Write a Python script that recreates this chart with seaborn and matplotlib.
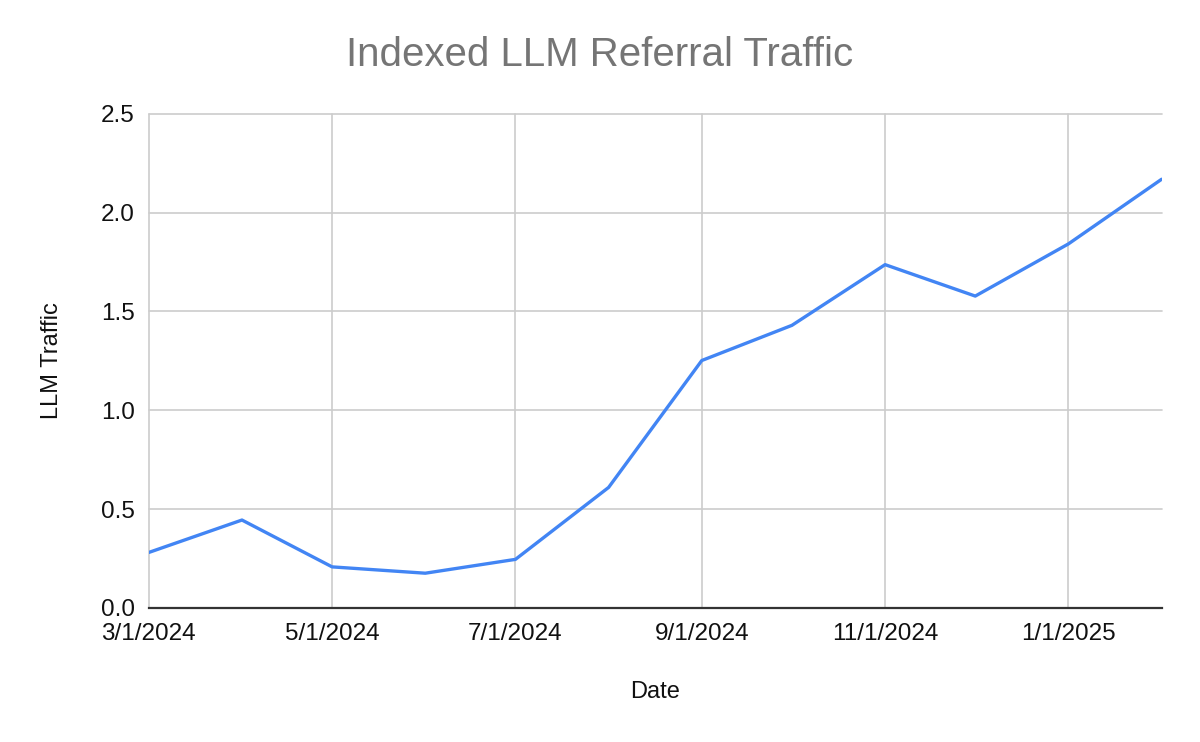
import pandas as pd
import matplotlib
matplotlib.use("Agg")
import matplotlib.pyplot as plt
import matplotlib.dates as mdates
from matplotlib.ticker import FuncFormatter
import seaborn as sns

# monthly values
dates = ["2024-03-01", "2024-04-01", "2024-05-01", "2024-06-01", "2024-07-01", "2024-08-01",
         "2024-09-01", "2024-10-01", "2024-11-01", "2024-12-01", "2025-01-01", "2025-02-01"]
traffic = [0.281, 0.445, 0.208, 0.176, 0.246, 0.610, 1.252, 1.430, 1.737, 1.578, 1.842, 2.169]
yticks = [0.0, 0.5, 1.0, 1.5, 2.0, 2.5]

df = pd.DataFrame({"Date": pd.to_datetime(dates), "LLM Traffic": traffic})

sns.set_style("whitegrid")
plt.rcParams["font.family"] = ["Liberation Sans", "DejaVu Sans"]

fig = plt.figure(figsize=(12, 7.42), dpi=100)
ax = fig.add_axes([0.124, 0.1806, 0.844, 0.666])

sns.lineplot(data=df, x="Date", y="LLM Traffic", color="#4285F4", linewidth=2.4, ax=ax)

ax.set_xlim(df["Date"].iloc[0], df["Date"].iloc[-1])
ax.set_ylim(0, 2.5)
ax.set_yticks(yticks)
ax.yaxis.set_major_formatter(FuncFormatter(lambda v, p: f"{v:.1f}"))
ax.xaxis.set_major_locator(mdates.MonthLocator(bymonth=[1, 3, 5, 7, 9, 11]))
ax.xaxis.set_major_formatter(FuncFormatter(
    lambda v, p: f"{mdates.num2date(v).month}/{mdates.num2date(v).day}/{mdates.num2date(v).year}"))

ax.grid(True, color="#cccccc", linewidth=1.2)
for gl in ax.get_ygridlines() + ax.get_xgridlines():
    gl.set_clip_on(False)
ax.set_axisbelow(True)
for s in ["top", "right", "left"]:
    ax.spines[s].set_visible(False)
ax.spines["bottom"].set_color("#333333")
ax.spines["bottom"].set_linewidth(1.6)
ax.tick_params(axis="both", length=0, labelsize=17.5, labelcolor="#111111")
ax.tick_params(axis="y", pad=10)
ax.tick_params(axis="x", pad=11)

fig.text(0.5, 0.926, "Indexed LLM Referral Traffic", fontsize=29, color="#757575",
         ha="center", va="center")
ax.set_xlabel("Date", fontsize=17, labelpad=26, color="#111111")
ax.set_ylabel("LLM Traffic", fontsize=17, labelpad=27, color="#111111")

fig.savefig("out.png", dpi=100)
